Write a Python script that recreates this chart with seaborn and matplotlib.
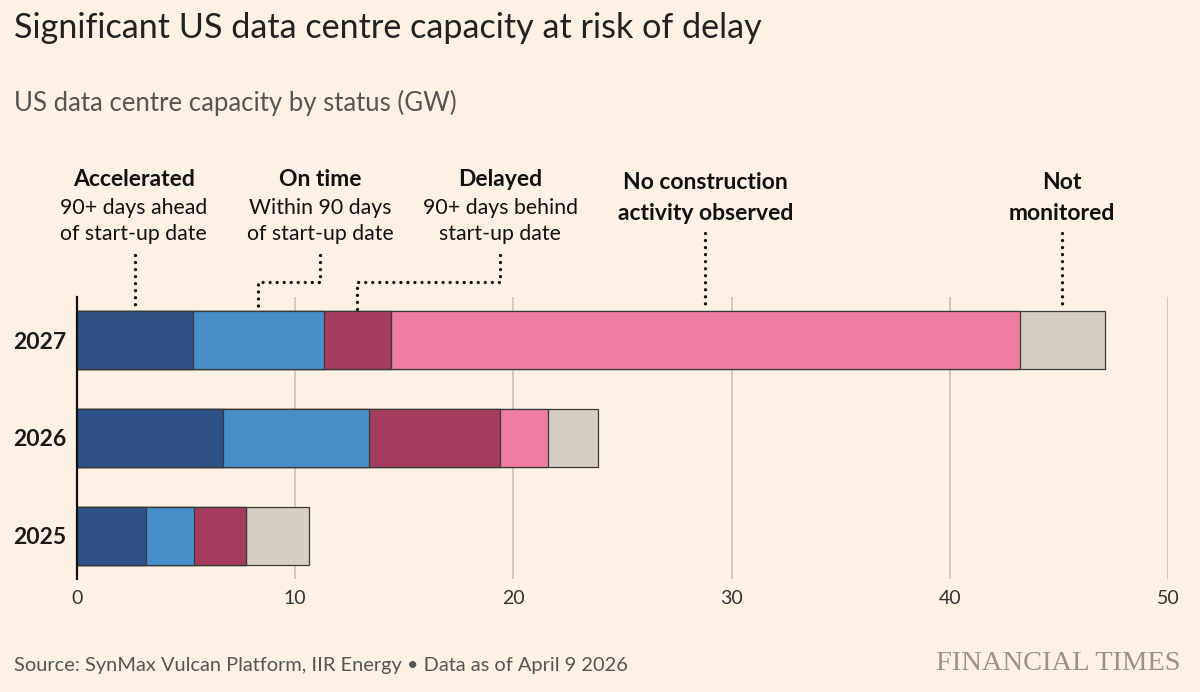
import numpy as np
import pandas as pd
import matplotlib
matplotlib.use("Agg")
import matplotlib.pyplot as plt
import matplotlib.transforms as mtransforms
import seaborn as sns

# ---- data ----
years = ["2027", "2026", "2025"]
statuses = ["Accelerated", "On time", "Delayed", "No construction activity observed", "Not monitored"]
accelerated = [5.3, 6.7, 3.15]
on_time = [6.0, 6.7, 2.2]
delayed = [3.1, 6.0, 2.4]
no_construction = [28.8, 2.2, 0.0]
not_monitored = [3.9, 2.3, 2.9]
xticks = [0, 10, 20, 30, 40, 50]

colors = ["#2f5286", "#488ec9", "#a53c5d", "#ef7ca2", "#d6cdc3"]
BG = "#fdf1e5"

sns.set_theme(style="white")
plt.rcParams["font.family"] = ["Lato", "DejaVu Sans"]

W, H = 1200, 692
fig = plt.figure(figsize=(W / 100, H / 100), dpi=100, facecolor=BG)
ax = fig.add_axes([77 / W, 1 - 579 / H, (1168 - 77) / W, (579 - 297) / H])
ax.set_facecolor(BG)

df = pd.DataFrame({"year": years, "Accelerated": accelerated, "On time": on_time,
                   "Delayed": delayed, "No construction activity observed": no_construction,
                   "Not monitored": not_monitored})
cum = df[statuses].cumsum(axis=1)

for st, col in reversed(list(zip(statuses, colors))):
    sns.barplot(x=cum[st], y=df["year"], order=years, orient="h", color=col,
                saturation=1, width=0.6, edgecolor="#3a3a3a", linewidth=0.9,
                ax=ax, zorder=3)

ax.set_xlim(0, 50)
ax.set_ylim(2.44, -0.44)
ax.set_xlabel("")
ax.set_ylabel("")
ax.set_xticks(xticks)
ax.set_xticklabels([str(t) for t in xticks], fontsize=14, color="#333333")
for t in xticks[1:]:
    ax.axvline(t, color="#cfc5bb", lw=1.3, zorder=1)
for s in ["top", "right", "bottom"]:
    ax.spines[s].set_visible(False)
ax.spines["left"].set_color("#111111")
ax.spines["left"].set_linewidth(1.6)
ax.spines["left"].set_zorder(5)
ax.tick_params(axis="x", length=0, pad=8)
ax.tick_params(axis="y", length=0, pad=8)
for lab in ax.get_yticklabels():
    lab.set_fontweight("bold")
    lab.set_fontsize(16.5)
    lab.set_color("#1a1a1a")

# ---- titles ----
def fy(px):
    return 1 - px / H

fig.text(14 / W, fy(28), "Significant US data centre capacity at risk of delay",
         fontsize=24.6, color="#222222", va="center", ha="left")
fig.text(14 / W, fy(103), "US data centre capacity by status (GW)",
         fontsize=18.5, color="#555555", va="center", ha="left")
fig.text(14 / W, fy(665), "Source: SynMax Vulcan Platform, IIR Energy \u2022 Data as of April 9 2026",
         fontsize=14.4, color="#555555", va="center", ha="left")
fig.text(1181 / W, fy(664), "FINANCIAL TIMES", fontsize=20.5, color="#9b928a",
         family=["Liberation Serif", "DejaVu Serif"], va="center", ha="right")

# ---- annotations ----
blend = mtransforms.blended_transform_factory(ax.transData, fig.transFigure)
mid2027 = (cum.iloc[0].values - df[statuses].iloc[0].values / 2)
bar_top = fy(310)

# label centres (data x), lines (text, bold, y px)
labels = [
    (2.6, [("Accelerated", True, 180), ("90+ days ahead", False, 208), ("of start-up date", False, 234)], 255, 255),
    (11.15, [("On time", True, 180), ("Within 90 days", False, 208), ("of start-up date", False, 234)], 255, 282),
    (19.4, [("Delayed", True, 180), ("90+ days behind", False, 208), ("start-up date", False, 234)], 255, 282),
    (28.8, [("No construction", True, 182), ("activity observed", True, 213)], 233, 233),
    (45.15, [("Not", True, 182), ("monitored", True, 213)], 233, 233),
]
dot = dict(color="#111111", lw=2.4, linestyle=(0, (0.01, 2.1)), dash_capstyle="round",
           solid_capstyle="round", transform=blend, clip_on=False, zorder=6)
for (lx, lines, ytop, yelbow), mx in zip(labels, mid2027):
    for text, bold, ypx in lines:
        ax.text(lx, fy(ypx), text, transform=blend, ha="center", va="center",
                fontsize=16.5 if bold else 15.3, fontweight="bold" if bold else "normal",
                color="#111111")
    if abs(lx - mx) < 0.3:
        ax.plot([mx, mx], [fy(ytop), bar_top], **dot)
    else:
        ax.plot([lx, lx, mx, mx], [fy(ytop), fy(yelbow), fy(yelbow), bar_top], **dot)

fig.savefig("out.png", dpi=100, facecolor=BG)
